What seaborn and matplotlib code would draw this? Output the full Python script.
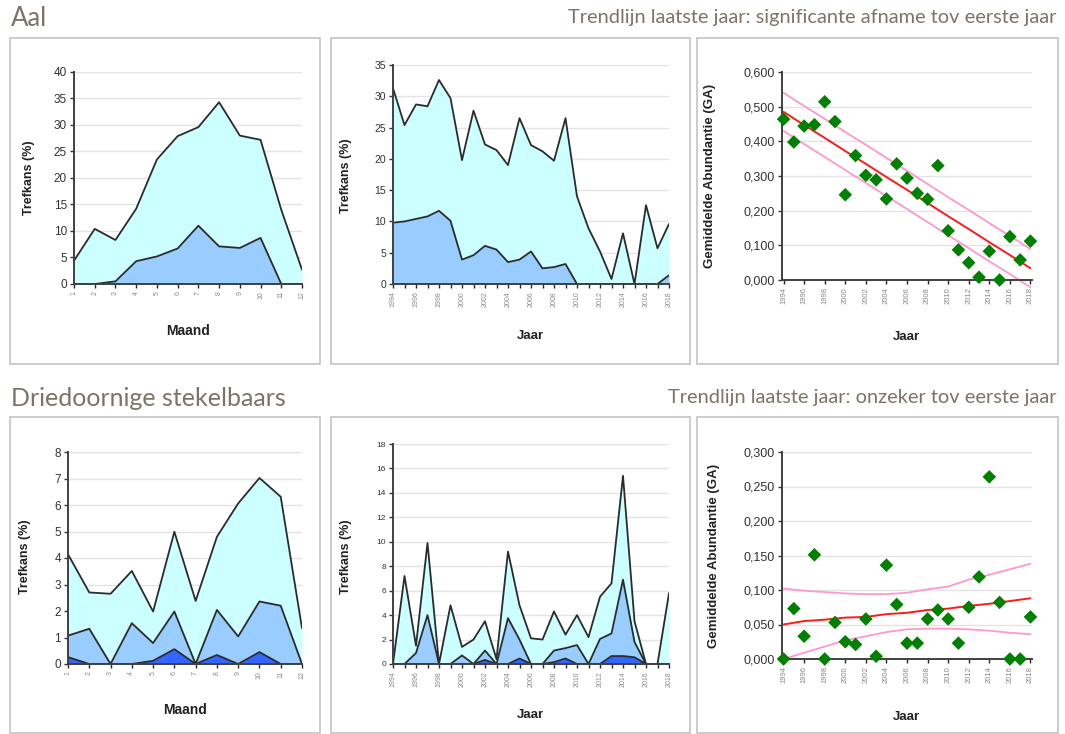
"""Trefkans en abundantie voor aal en driedoornige stekelbaars."""

import matplotlib
matplotlib.use("Agg")
import matplotlib.pyplot as plt
import seaborn as sns
import numpy as np
from matplotlib.patches import Rectangle
from matplotlib.ticker import FuncFormatter

# ---- data ----
maanden = list(range(1, 13))
jaren = list(range(1994, 2019))
trend_jaren = list(range(1994, 2019, 2))

aal_maand_totaal = [4.4, 10.4, 8.3, 14.2, 23.5, 27.9, 29.6, 34.3, 28.0, 27.2, 14.0, 2.7]
aal_maand_deel = [0, 0, 0.5, 4.3, 5.2, 6.7, 11.0, 7.1, 6.8, 8.7, 0, 0]

aal_jaar_totaal = [31.3, 25.4, 28.7, 28.4, 32.6, 29.7, 19.8, 27.7, 22.3, 21.4, 19.0, 26.5, 22.2,
                   21.2, 19.7, 26.5, 14.0, 8.9, 5.2, 0.8, 8.1, 0, 12.6, 5.7, 9.6]
aal_jaar_deel = [9.8, 10.0, 10.4, 10.8, 11.7, 10.1, 3.9, 4.6, 6.1, 5.5, 3.5, 3.9, 5.2,
                 2.5, 2.7, 3.2, 0, 0, 0, 0, 0, 0, 0, 0, 1.4]

aal_ga = [0.464, 0.398, 0.444, 0.448, 0.514, 0.457, 0.246, 0.359, 0.302, 0.289, 0.234, 0.335, 0.294,
          0.250, 0.233, 0.330, 0.142, 0.087, 0.050, 0.008, 0.083, 0.000, 0.125, 0.058, 0.112]
aal_trend = [0.485, 0.447, 0.410, 0.372, 0.335, 0.297, 0.260, 0.222, 0.184, 0.147, 0.109, 0.072, 0.034]
aal_boven = [0.540, 0.502, 0.465, 0.427, 0.390, 0.352, 0.315, 0.277, 0.239, 0.202, 0.164, 0.127, 0.089]
aal_onder = [0.430, 0.392, 0.355, 0.317, 0.280, 0.242, 0.205, 0.167, 0.129, 0.092, 0.054, 0.017, -0.021]

stekel_maand_totaal = [4.14, 2.7, 2.65, 3.51, 1.98, 4.99, 2.38, 4.80, 6.06, 7.02, 6.31, 1.35]
stekel_maand_deel = [1.07, 1.33, 0, 1.54, 0.79, 1.98, 0, 2.04, 1.04, 2.36, 2.2, 0]
stekel_maand_kern = [0.26, 0, 0, 0, 0.12, 0.56, 0, 0.34, 0, 0.45, 0, 0]

stekel_jaar_totaal = [0, 7.2, 1.5, 9.9, 0, 4.8, 1.4, 2.0, 3.5, 0.4, 9.2, 4.8, 2.1,
                      2.0, 4.3, 2.4, 4.0, 2.2, 5.5, 6.6, 15.4, 3.5, 0, 0, 5.8]
stekel_jaar_deel = [0, 0, 0.9, 4.0, 0, 0, 0.7, 0, 1.1, 0, 3.75, 2.0, 0,
                    0, 1.1, 1.3, 1.55, 0, 2.05, 2.5, 6.9, 1.8, 0, 0, 0]
stekel_jaar_kern = [0, 0, 0, 0, 0, 0, 0, 0, 0.33, 0, 0, 0.45, 0,
                    0, 0.15, 0.45, 0, 0, 0, 0.65, 0.65, 0.55, 0, 0, 0]

stekel_ga = [0.0, 0.073, 0.033, 0.151, 0.0, 0.053, 0.025, 0.021, 0.058, 0.004, 0.136, 0.079, 0.023,
             0.023, 0.058, 0.071, 0.058, 0.023, 0.075, 0.119, 0.264, 0.082, 0.0, 0.0, 0.061]
stekel_trend = [0.050, 0.055, 0.057, 0.060, 0.061, 0.065, 0.067, 0.071, 0.073, 0.077, 0.080, 0.084, 0.088]
stekel_boven = [0.102, 0.099, 0.097, 0.095, 0.094, 0.094, 0.096, 0.101, 0.105, 0.115, 0.122, 0.130, 0.138]
stekel_onder = [0.000, 0.009, 0.018, 0.027, 0.033, 0.039, 0.043, 0.044, 0.044, 0.043, 0.041, 0.038, 0.036]

# ---- stijl ----
sns.set_style("white")
plt.rcParams["font.family"] = ["Liberation Sans", "DejaVu Sans"]

W, H = 1065, 734
LICHT, MIDDEN, DONKER = "#CCFFFF", "#99CCFF", "#3366FF"
TITEL_KLEUR = "#7d7367"

fig = plt.figure(figsize=(W / 100, H / 100), dpi=100)


def rect(x0, y0, x1, y1):
    return [x0 / W, 1 - y1 / H, (x1 - x0) / W, (y1 - y0) / H]


def panel(x0, y0, x1, y1):
    fig.add_artist(Rectangle((x0 / W, 1 - y1 / H), (x1 - x0) / W, (y1 - y0) / H,
                             transform=fig.transFigure, fill=False,
                             edgecolor="#c4c4c4", lw=1.2))


def basis(ax, box, ylim, ystep, ylabel, xlabel, ylab_px, xlab_px, fs_y=8.5):
    ax.set_ylim(*ylim)
    ax.set_yticks(np.arange(ylim[0], ylim[1] + ystep / 2, ystep))
    ax.yaxis.grid(True, color="#e4e4e4", lw=1)
    ax.set_axisbelow(True)
    sns.despine(ax=ax)
    for s in ("left", "bottom"):
        ax.spines[s].set_color("#404040")
        ax.spines[s].set_linewidth(1.4)
    ax.tick_params(axis="y", labelsize=fs_y, colors="#333333", length=3, width=1, direction="out",
                   left=True, pad=2)
    ax.tick_params(axis="x", length=3, width=1, direction="out", bottom=True, pad=2,
                   labelsize=5, labelcolor="#8a8a8a", labelrotation=90)
    ax.set_ylabel(ylabel, fontsize=9, fontweight="bold", color="#222222")
    ax.set_xlabel(xlabel, fontsize=9.5, fontweight="bold", color="#222222")
    x0, y0, x1, y1 = box
    ax.yaxis.set_label_coords((ylab_px[0] - x0) / (x1 - x0), (y1 - ylab_px[1]) / (y1 - y0))
    ax.xaxis.set_label_coords((xlab_px[0] - x0) / (x1 - x0), (y1 - xlab_px[1]) / (y1 - y0))


def area(ax, x, lagen):
    for vals, kleur in lagen:
        ax.fill_between(x, 0, vals, color=kleur, lw=0)
        sns.lineplot(x=x, y=vals, ax=ax, color="#2b2b2b", lw=1.3)
    ax.set_xlim(x[0], x[-1])


def trefkans_maand(box, lagen, ylim, ystep, ylab_px, xlab_px):
    ax = fig.add_axes(rect(*box))
    area(ax, maanden, lagen)
    ax.set_xticks(maanden)
    ax.set_xticklabels([str(m) for m in maanden])
    basis(ax, box, ylim, ystep, "Trefkans (%)", "Maand", ylab_px, xlab_px)
    ax.set_xlabel("Maand", fontsize=10, fontweight="bold", color="#222222")
    return ax


def trefkans_jaar(box, lagen, ylim, ystep, ylab_px, xlab_px, fs_y):
    ax = fig.add_axes(rect(*box))
    area(ax, jaren, lagen)
    ax.set_xticks(jaren)
    ax.set_xticklabels([str(j) if (j - 1994) % 2 == 0 else "" for j in jaren])
    basis(ax, box, ylim, ystep, "Trefkans (%)", "Jaar", ylab_px, xlab_px, fs_y=fs_y)
    return ax


def abundantie(box, ga, trend, boven, onder, ylim, ystep, ylab_px, xlab_px):
    ax = fig.add_axes(rect(*box))
    sns.lineplot(x=trend_jaren, y=boven, ax=ax, color="#ff99cc", lw=1.3)
    sns.lineplot(x=trend_jaren, y=onder, ax=ax, color="#ff99cc", lw=1.3)
    for l in ax.lines:
        l.set_clip_on(False)
    sns.lineplot(x=trend_jaren, y=trend, ax=ax, color="#ff1a1a", lw=1.4)
    sns.scatterplot(x=jaren, y=ga, ax=ax, marker="D", color="#008000", s=48,
                    edgecolor="none", zorder=5, clip_on=False)
    ax.set_xlim(1993.85, 2018.15)
    ax.set_xticks(trend_jaren)
    ax.set_xticklabels([str(j) for j in trend_jaren])
    basis(ax, box, ylim, ystep, "Gemiddelde Abundantie (GA)", "Jaar", ylab_px, xlab_px, fs_y=9)
    ax.yaxis.set_major_formatter(FuncFormatter(lambda v, p: f"{v:.3f}".replace(".", ",")))
    ax.tick_params(axis="x", labelsize=5.5)
    ax.set_ylabel("Gemiddelde Abundantie (GA)", fontsize=9.5, fontweight="bold", color="#222222")
    return ax


# panelen
for (y0, y1) in [(38, 364), (417, 733)]:
    panel(10, y0, 320, y1)
    panel(331, y0, 690, y1)
    panel(697, y0, 1058, y1)

# titels
titel_font = ["Lato", "DejaVu Sans"]
fig.text(11 / W, 1 - 19 / H, "Aal", fontsize=18.5, color=TITEL_KLEUR, family=titel_font, va="center")
fig.text(1056 / W, 1 - 18 / H, "Trendlijn laatste jaar: significante afname tov eerste jaar",
         fontsize=14.4, color=TITEL_KLEUR, family=titel_font, va="center", ha="right")
fig.text(11 / W, 1 - 398 / H, "Driedoornige stekelbaars", fontsize=18, color=TITEL_KLEUR,
         family=titel_font, va="center")
fig.text(1056 / W, 1 - 397 / H, "Trendlijn laatste jaar: onzeker tov eerste jaar",
         fontsize=14.4, color=TITEL_KLEUR, family=titel_font, va="center", ha="right")

# Aal
trefkans_maand((74, 72, 302, 284),
               [(aal_maand_totaal, LICHT), (aal_maand_deel, MIDDEN)],
               (0, 40), 5, (35, 178), (186, 324))
trefkans_jaar((393, 65, 669, 284), [(aal_jaar_totaal, LICHT), (aal_jaar_deel, MIDDEN)],
              (0, 35), 5, (352, 176), (530, 330), 7.5)
abundantie((782, 72, 1032, 280), aal_ga, aal_trend, aal_boven, aal_onder,
           (0, 0.6), 0.1, (716, 176), (906, 331))

# Driedoornige stekelbaars
trefkans_maand((68, 452, 302, 664),
               [(stekel_maand_totaal, LICHT), (stekel_maand_deel, MIDDEN), (stekel_maand_kern, DONKER)],
               (0, 8), 1, (31, 557), (185, 703))
trefkans_jaar((393, 444, 669, 664),
              [(stekel_jaar_totaal, LICHT), (stekel_jaar_deel, MIDDEN), (stekel_jaar_kern, DONKER)],
              (0, 18), 2, (352, 557), (530, 709), 6)
abundantie((782, 452, 1032, 659), stekel_ga, stekel_trend, stekel_boven, stekel_onder,
           (0, 0.3), 0.05, (720, 556), (906, 711))

fig.savefig("out.png", dpi=100)
plt.close(fig)
